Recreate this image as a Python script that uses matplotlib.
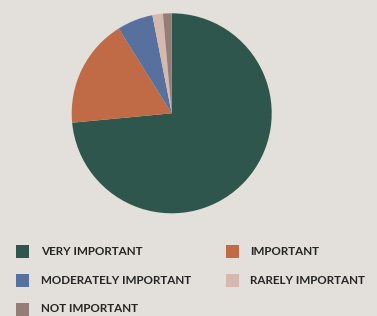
import matplotlib
matplotlib.use("Agg")
import matplotlib.pyplot as plt
from matplotlib.patches import Rectangle

categories = ["VERY IMPORTANT", "IMPORTANT", "MODERATELY IMPORTANT", "RARELY IMPORTANT", "NOT IMPORTANT"]
values = [73.5, 17.6, 5.8, 1.7, 1.4]
colors = ["#2f564d", "#c06b45", "#58709e", "#d5b9af", "#957d77"]
bg = "#e3dfda"

W, H = 377, 316
fig = plt.figure(figsize=(W / 100, H / 100), dpi=100, facecolor=bg)

cx, cy, r = 171.7, 113.3, 100.0
ax = fig.add_axes([(cx - r) / W, (H - cy - r) / H, 2 * r / W, 2 * r / H])
ax.set_facecolor(bg)
ax.pie(values, colors=colors, startangle=90, counterclock=False, radius=1,
       wedgeprops=dict(linewidth=0))
ax.set_xlim(-1, 1)
ax.set_ylim(-1, 1)
ax.set_aspect("equal")
ax.axis("off")

# legend
sq_x = [16, 226]
txt_x = [41, 250]
row_y = [251.7, 280.3, 309]
sq = 13
for i, (cat, col) in enumerate(zip(categories, colors)):
    c = i % 2
    rw = i // 2
    x0 = sq_x[c]
    yc = row_y[rw]
    fig.patches.append(Rectangle((x0 / W, (H - yc - sq / 2) / H), sq / W, sq / H,
                                 transform=fig.transFigure, facecolor=col, edgecolor="none"))
    fig.text(txt_x[c] / W, (H - yc) / H, cat, fontsize=8.4, fontweight="bold",
             family="Lato", color="#262626", va="center", ha="left")

fig.savefig("out.png", dpi=100, facecolor=bg)
